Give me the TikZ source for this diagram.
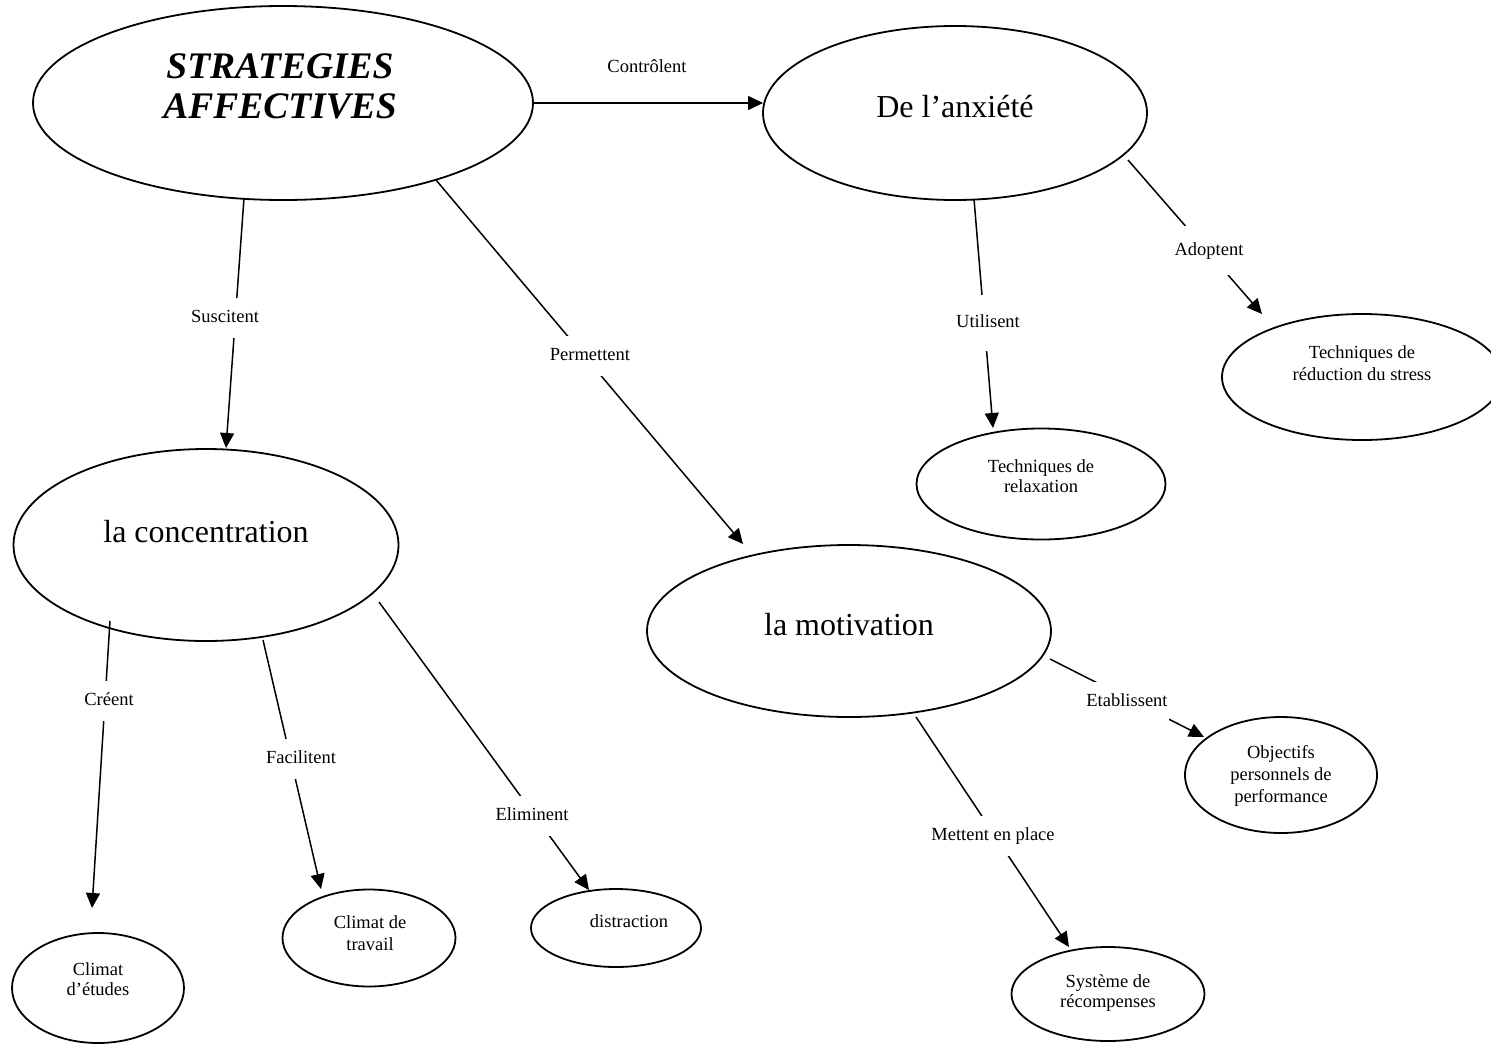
\documentclass[tikz,border=0pt]{standalone}
\usepackage{fontspec}
\setmainfont{Liberation Serif}
\usetikzlibrary{arrows.meta,shapes.geometric}
\newcommand{\mlines}[1]{\begin{tabular}[t]{@{}c@{}}#1\end{tabular}}
\begin{document}
\begin{tikzpicture}[x=1pt,y=-1pt,
  oval/.style={draw, ellipse, line width=1.8pt, inner sep=0pt, outer sep=0pt},
  big/.style={anchor=base, font=\fontsize{32}{36}\selectfont, inner sep=0pt},
  small/.style={anchor=base, inner sep=0pt},
  conn/.style={line width=1.5pt, -{Triangle[length=15pt,width=14pt]}},
  lbl/.style={anchor=base, font=\fontsize{18.5}{21}\selectfont, fill=white, text height=13pt, text depth=4pt, inner xsep=1.5pt, inner ysep=0pt, minimum height=40pt}]
\useasboundingbox (0,0) rectangle (1491,1045);
\clip (0,0) rectangle (1491,1045);

% ellipses
\node[oval, minimum width=500pt, minimum height=194pt] (strat) at (283,103) {};
\node[oval, minimum width=384pt, minimum height=174pt] (anx) at (955,113) {};
\node[oval, minimum width=385pt, minimum height=192pt] (conc) at (206,545) {};
\node[oval, minimum width=404pt, minimum height=172pt] (motiv) at (849,631) {};
\node[oval, minimum width=249pt, minimum height=111pt] (relax) at (1041,484) {};
\node[oval, minimum width=280pt, minimum height=126pt] (stress) at (1362,377) {};
\node[oval, minimum width=172pt, minimum height=110pt] (etudes) at (98,988) {};
\node[oval, minimum width=173pt, minimum height=97pt] (travail) at (369,938) {};
\node[oval, minimum width=170pt, minimum height=78pt] (distr) at (616,928) {};
\node[oval, minimum width=192pt, minimum height=116pt] (obj) at (1281,775) {};
\node[oval, minimum width=193pt, minimum height=94pt] (syst) at (1108,994) {};

% texts in ellipses
\node[anchor=base, inner sep=0pt, font=\fontsize{37.5}{40}\selectfont\bfseries\itshape] (tstrat) at (280,78) {\mlines{STRATEGIES\\AFFECTIVES}};
\node[big] (tanx) at (955,117) {De l’anxiété};
\node[big] (tconc) at (206,542) {la concentration};
\node[big] (tmotiv) at (849,635) {la motivation};
\node[small, font=\fontsize{18.5}{20}\selectfont] (trelax) at (1041,472) {\mlines{Techniques de\\relaxation}};
\node[small, font=\fontsize{18.5}{22}\selectfont] (tstress) at (1362,358) {\mlines{Techniques de\\réduction du stress}};
\node[small, font=\fontsize{18.5}{20}\selectfont] (tetudes) at (98,975) {\mlines{Climat\\d’études}};
\node[small, font=\fontsize{18.5}{22}\selectfont] (ttravail) at (370,928) {\mlines{Climat de\\travail}};
\node[small, font=\fontsize{18.5}{20}\selectfont] (tdistr) at (629,927) {distraction};
\node[small, font=\fontsize{18.5}{22}\selectfont] (tobj) at (1281,758) {\mlines{Objectifs\\personnels de\\performance}};
\node[small, font=\fontsize{18.5}{20}\selectfont] (tsyst) at (1108,987) {\mlines{Système de\\récompenses}};

% connector end points
\coordinate (sSus) at (244,198);   \coordinate (eSus) at (226,448);
\coordinate (sPer) at (436,180);   \coordinate (ePer) at (743,544);
\coordinate (sCre) at (110,621);   \coordinate (eCre) at (92,908);
\coordinate (sFac) at (263,640);   \coordinate (eFac) at (321,889);
\coordinate (sEli) at (379,602);   \coordinate (eEli) at (589,890);
\coordinate (sUti) at (974,199);   \coordinate (eUti) at (993,428);
\coordinate (sAdo) at (1128,160);  \coordinate (eAdo) at (1262,314);
\coordinate (sEta) at (1050,659);  \coordinate (eEta) at (1204,737);
\coordinate (sMet) at (916,717);   \coordinate (eMet) at (1069,947);

% connectors
\draw[conn] (strat.east) -- (anx.west |- strat.east);
\draw[conn] (sSus) -- (eSus);
\draw[conn] (sPer) -- (ePer);
\draw[conn] (sCre) -- (eCre);
\draw[conn] (sFac) -- (eFac);
\draw[conn] (sEli) -- (eEli);
\draw[conn] (sUti) -- (eUti);
\draw[conn] (sAdo) -- (eAdo);
\draw[conn] (sEta) -- (eEta);
\draw[conn] (sMet) -- (eMet);

% connector labels
\node[lbl, fill=none] (lCon) at (647,72) {Contrôlent};
\node[lbl] (lSus) at (225,322) {Suscitent};
\node[lbl] (lPer) at (590,360) {Permettent};
\node[lbl] (lCre) at (109,705) {Créent};
\node[lbl] (lFac) at (301,763) {Facilitent};
\node[lbl] (lEli) at (532,820) {Eliminent};
\node[lbl, minimum height=56pt] (lUti) at (988,327) {Utilisent};
\node[lbl, minimum height=49pt] (lAdo) at (1209,255) {Adoptent};
\node[lbl] (lEta) at (1127,706) {Etablissent};
\node[lbl] (lMet) at (993,840) {Mettent en place};
\end{tikzpicture}
\end{document}
